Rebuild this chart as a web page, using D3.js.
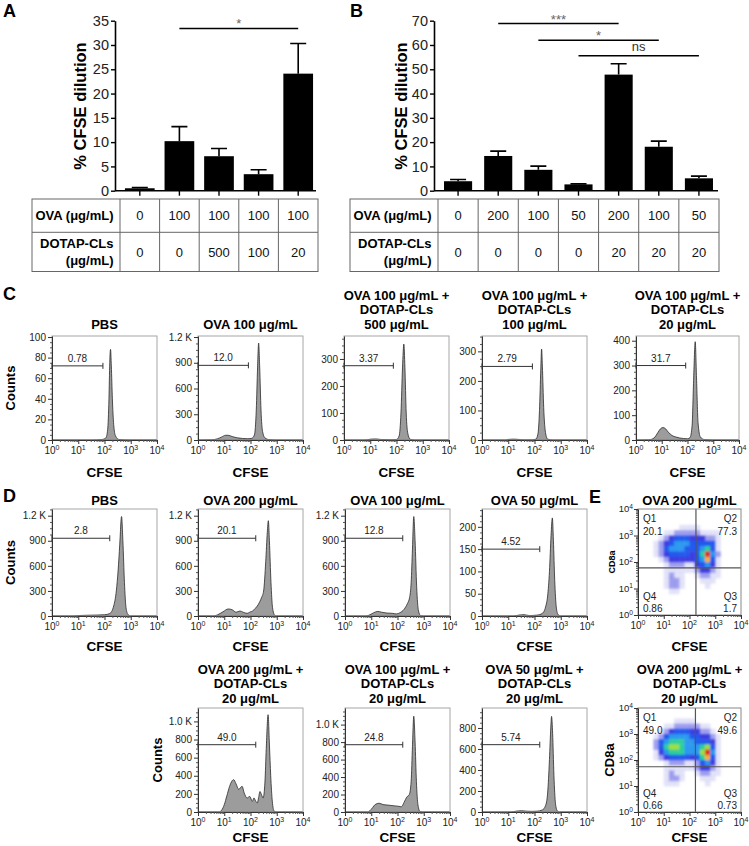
<!DOCTYPE html>
<html><head><meta charset="utf-8">
<script src="https://cdn.jsdelivr.net/npm/d3@7"></script>
<style>body{margin:0;background:#fff}svg{display:block}</style>
</head><body>
<svg id="fig" width="749" height="846"></svg>
<script>
// ---------------- DATA ----------------
// Panel A
const aOva = ["0","100","100","100","100"];
const aDotap = ["0","0","500","100","20"];
const aMean = [0.5, 10.2, 7.1, 3.4, 24.1];
const aErr = [0.15, 3.0, 1.6, 0.9, 6.2];
const aTicks = [0,5,10,15,20,25,30,35];
const aSig = [[1,4,"*",33.4]];
// Panel B
const bOva = ["0","200","100","50","200","100","50"];
const bDotap = ["0","0","0","0","20","20","20"];
const bMean = [3.9, 14.3, 8.6, 2.6, 47.8, 18.1, 5.1];
const bErr = [0.7, 2.0, 1.5, 0.2, 4.5, 2.3, 0.9];
const bTicks = [0,10,20,30,40,50,60,70];
const bSig = [[1,4,"***",68.8],[2,5,"*",62.0],[3,6,"ns",55.6]];
const tableLabels = ["OVA (μg/mL)", "DOTAP-CLs", "(μg/mL)"];

// Panel C histograms: [log10 CFSE, counts]
const cPBS = [[0,0],[1.5,0],[1.9,0.5],[2.05,2],[2.12,10],[2.17,40],[2.2,75],[2.23,88],[2.26,72],[2.3,40],[2.35,15],[2.42,4],[2.55,0.5],[3,0],[4,0]];
const cOVA100 = [[0,0],[0.5,2],[0.75,15],[0.9,35],[1.05,55],[1.15,55],[1.3,40],[1.5,25],[1.7,18],[1.9,15],[2.05,20],[2.15,60],[2.22,350],[2.27,850],[2.31,1130],[2.35,850],[2.4,350],[2.46,100],[2.55,25],[2.7,5],[3,0],[4,0]];
const cD500 = [[0,0],[0.8,0],[1.0,3],[1.2,4],[1.4,2],[1.8,1],[2.0,2],[2.1,15],[2.17,100],[2.23,270],[2.28,355],[2.32,270],[2.37,100],[2.43,25],[2.52,3],[2.7,0],[4,0]];
const cD100 = [[0,0],[0.9,0],[1.0,2],[1.2,3],[1.4,2],[1.6,0.5],[1.9,0.5],[2.05,3],[2.13,20],[2.19,100],[2.24,240],[2.27,308],[2.3,250],[2.35,110],[2.42,25],[2.5,3],[2.7,0],[4,0]];
const cD20 = [[0,0],[0.5,1],[0.7,8],[0.85,30],[0.95,45],[1.05,50],[1.15,45],[1.25,32],[1.4,18],[1.55,12],[1.7,8],[1.85,6],[2.0,5],[2.1,10],[2.18,60],[2.24,250],[2.3,396],[2.35,250],[2.41,70],[2.5,12],[2.65,2],[3,0],[4,0]];
const ticksC = [[0,20,40,60,80,100],[0,300,600,900,1200],[0,100,200,300],[0,100,200,300],[0,100,200,300,400]];
const gateC = [[1.94,72,"0.78"],[1.92,870,"12.0"],[1.88,275,"3.37"],[1.92,249,"2.79"],[1.93,300,"31.7"]];
const titlesC = [["PBS"],["OVA 100 μg/mL"],["OVA 100 μg/mL +","DOTAP-CLs","500 μg/mL"],["OVA 100 μg/mL +","DOTAP-CLs","100 μg/mL"],["OVA 100 μg/mL +","DOTAP-CLs","20 μg/mL"]];

// Panel D histograms
const dPBS = [[0,0],[0.8,0],[1.0,5],[1.5,10],[2.0,15],[2.2,30],[2.35,120],[2.45,300],[2.52,550],[2.58,850],[2.65,1190],[2.7,900],[2.76,400],[2.82,100],[2.9,15],[3.0,0],[4,0]];
const dOVA200 = [[0,0],[0.6,0],[0.75,15],[0.95,50],[1.15,84],[1.3,75],[1.45,45],[1.6,60],[1.72,45],[1.87,32],[2.0,50],[2.08,60],[2.18,90],[2.3,140],[2.42,220],[2.5,300],[2.58,650],[2.64,1000],[2.68,1140],[2.72,900],[2.78,400],[2.84,100],[2.92,10],[3.0,0],[4,0]];
const dOVA100 = [[0,0],[0.8,0],[0.95,15],[1.1,40],[1.25,55],[1.4,45],[1.6,35],[1.8,32],[1.95,25],[2.1,40],[2.25,80],[2.38,150],[2.46,220],[2.52,400],[2.57,800],[2.62,1190],[2.67,900],[2.73,350],[2.8,60],[2.88,5],[3,0],[4,0]];
const dOVA50 = [[0,0],[1.2,0],[1.4,2],[1.6,3],[1.8,1],[2.1,2],[2.3,6],[2.42,20],[2.5,45],[2.57,100],[2.63,180],[2.68,220],[2.72,170],[2.77,80],[2.83,20],[2.9,3],[3.0,0],[4,0]];
const dOVA200D = [[0,0],[0.8,0],[0.9,20],[1.0,80],[1.1,180],[1.2,280],[1.3,345],[1.36,357],[1.45,310],[1.55,250],[1.62,270],[1.68,283],[1.76,210],[1.87,155],[1.97,172],[2.07,117],[2.13,155],[2.2,120],[2.26,99],[2.31,160],[2.36,227],[2.42,190],[2.48,155],[2.55,330],[2.6,700],[2.67,1074],[2.72,750],[2.77,400],[2.83,120],[2.9,10],[3,0],[4,0]];
const dOVA100D = [[0,0],[0.85,0],[0.95,15],[1.05,50],[1.15,85],[1.3,100],[1.45,85],[1.6,80],[1.75,75],[1.9,70],[2.05,65],[2.15,60],[2.25,110],[2.35,170],[2.45,200],[2.52,350],[2.57,750],[2.62,1096],[2.67,800],[2.72,350],[2.78,80],[2.86,5],[3,0],[4,0]];
const dOVA50D = [[0,0],[1.1,0],[1.3,8],[1.5,12],[1.7,8],[1.9,6],[2.1,8],[2.3,20],[2.42,60],[2.5,180],[2.57,500],[2.62,800],[2.65,910],[2.69,750],[2.74,350],[2.8,80],[2.87,10],[2.95,0],[4,0]];
const ticksD = [[0,300,600,900,1200],[0,300,600,900,1200],[0,300,600,900,1200],[0,50,100,150,200]];
const ticksD2 = [[0,200,400,600,800,1000],[0,200,400,600,800,1000],[0,200,400,600,800]];
const gateD = [[2.2,930,"2.8"],[2.2,930,"20.1"],[2.2,930,"12.8"],[2.2,150,"4.52"]];
const gateD2 = [[2.2,743,"49.0"],[2.2,770,"24.8"],[2.2,641,"5.74"]];
const titlesD = [["PBS"],["OVA 200 μg/mL"],["OVA 100 μg/mL"],["OVA 50 μg/mL"]];
const titlesD2 = [["OVA 200 μg/mL +","DOTAP-CLs","20 μg/mL"],["OVA 100 μg/mL +","DOTAP-CLs","20 μg/mL"],["OVA 50 μg/mL +","DOTAP-CLs","20 μg/mL"]];

// Panel E density grids (20x20 cells of 0.2 decade, rows from CD8a 10^4 down; 0 = empty, 9 = densest)
const eGridTop = [
"00000000000000000000","00000000000000000000","00000000000000000000",
"00000000111100000000","00000112222211110000","00001234443332210000",
"00012345554444410000","00012455544456410000","00012344443469520000",
"00001233333458410000","00000122211345310000","00000111111233210000",
"00000121100122110000","00000122100011100000","00000122100001000000",
"00000011000000000000","00000000000000000000","00000000000000000000",
"00000000000000000000","00000000000000000000"];
const eGridBottom = [
"00000000000000000000","00000000000000000000","00000001111000000000",
"00000112222211000000","00001234443322100000","00012455554433210000",
"00024566655444310000","00024677655567410000","00013566655579510000",
"00012344443468410000","00000122211245310000","00000111111233210000",
"00000121100122110000","00000122100011100000","00000111000001000000",
"00000000000000000000","00000000000000000000","00000000000000000000",
"00000000000000000000","00000000000000000000"];
const eQuadTop = [178, 60];
const eQuadBottom = [170, 55];
const eQTop = ["20.1","77.3","1.7","0.86"];
const eQBottom = ["49.0","49.6","0.73","0.66"];
const titlesE = [["OVA 200 μg/mL"],["OVA 200 μg/mL +","DOTAP-CLs","20 μg/mL"]];
const densityColors = ["none","#c8c8f4","#8080ea","#3c3ce0","#2458ee","#2c98f0","#2ccf9a","#9ee03a","#f4b020","#e62020"];

// ---------------- DRAWING ----------------
const FF = '"Liberation Sans", Arial, Helvetica, sans-serif';
const svg = d3.select("#fig").attr("font-family", FF);

function txt(g, x, y, s, o = {}) {
  const t = g.append("text").attr("x", x).attr("y", y).text(s)
    .attr("font-size", o.size || 12).attr("font-weight", o.bold ? "bold" : "normal")
    .attr("text-anchor", o.anchor || "start").attr("fill", o.fill || "#111");
  if (o.rotate) t.attr("transform", `rotate(-90,${x},${y})`);
  return t;
}
function styleAxis(sel, size, color) {
  sel.attr("font-family", FF);
  sel.selectAll("path.domain").attr("stroke", color || "#333");
  sel.selectAll(".tick line").attr("stroke", color || "#333");
  sel.selectAll("text").attr("font-size", size).attr("fill", "#222").attr("font-family", FF);
}

// Panel letters
[["A",3,17],["B",350,17],["C",3,300],["D",3,502],["E",589,503]].forEach(d =>
  txt(svg, d[1], d[2], d[0], {size: 18, bold: true, fill: "#000"}));

function barPanel(p) {
  const g = svg.append("g");
  const n = p.mean.length;
  const x = d3.scaleBand().domain(d3.range(n)).range([p.c0, p.c1]).paddingInner(p.pad).paddingOuter(p.pad / 2);
  const y = d3.scaleLinear().domain([0, p.yMax]).range([190.7, 20.7]);
  const cx = i => x(i) + x.bandwidth() / 2;
  g.selectAll("rect.bar").data(p.mean).join("rect").attr("class", "bar")
    .attr("x", (d, i) => x(i)).attr("width", x.bandwidth())
    .attr("y", d => y(d)).attr("height", d => y(0) - y(d)).attr("fill", "#000");
  g.selectAll("path.eb").data(p.mean).join("path").attr("class", "eb")
    .attr("d", (d, i) => `M${cx(i)},${y(d)}V${y(d + p.err[i])}M${cx(i) - 8},${y(d + p.err[i])}H${cx(i) + 8}`)
    .attr("stroke", "#000").attr("stroke-width", 1.6).attr("fill", "none");
  const ya = g.append("g").attr("transform", `translate(${p.ax0},0)`)
    .call(d3.axisLeft(y).tickValues(p.ticks).tickSize(4).tickSizeOuter(0).tickPadding(2));
  styleAxis(ya, 14.5, "#000");
  ya.select("path.domain").attr("stroke-width", 1.6);
  ya.selectAll(".tick line").attr("stroke-width", 1.4);
  const xa = g.append("g").attr("transform", `translate(0,${y(0)})`)
    .call(d3.axisBottom(x).tickSize(5).tickSizeOuter(0).tickFormat(""));
  xa.select("path.domain").remove();
  xa.selectAll(".tick line").attr("stroke", "#000").attr("stroke-width", 1.4);
  g.append("line").attr("x1", p.ax0).attr("x2", p.ax1).attr("y1", y(0)).attr("y2", y(0))
    .attr("stroke", "#000").attr("stroke-width", 1.6);
  // significance
  p.sig.forEach(s => {
    const yy = y(s[3]);
    g.append("line").attr("x1", cx(s[0])).attr("x2", cx(s[1])).attr("y1", yy).attr("y2", yy)
      .attr("stroke", "#000").attr("stroke-width", 1.5);
    const isNs = s[2] === "ns";
    txt(g, (cx(s[0]) + cx(s[1])) / 2, isNs ? yy - 4.5 : yy, s[2],
      {size: 13, anchor: "middle", fill: isNs ? "#333" : "#666"});
  });
  // y label
  txt(g, p.ylx, 106, "% CFSE dilution", {size: 16.5, bold: true, anchor: "middle", rotate: true, fill: "#000"});
  // table
  const step = x.step();
  const t0 = 199, t1 = 232.3, t2 = 271.5;
  g.append("rect").attr("x", p.t0).attr("y", t0).attr("width", p.c1 - p.t0).attr("height", t2 - t0)
    .attr("fill", "none").attr("stroke", "#666").attr("stroke-width", 1);
  g.append("line").attr("x1", p.t0).attr("x2", p.c1).attr("y1", t1).attr("y2", t1).attr("stroke", "#666");
  d3.range(n).forEach(i => g.append("line").attr("x1", p.c0 + i * step).attr("x2", p.c0 + i * step)
    .attr("y1", t0).attr("y2", t2).attr("stroke", "#666"));
  txt(g, p.c0 - 6.5, 219.8, tableLabels[0], {size: 13, bold: true, anchor: "end", fill: "#000"});
  txt(g, p.c0 - 6.5, 248, tableLabels[1], {size: 13, bold: true, anchor: "end", fill: "#000"});
  txt(g, p.c0 - 6.5, 264.5, tableLabels[2], {size: 13, bold: true, anchor: "end", fill: "#000"});
  g.selectAll("text.ova").data(p.ova).join("text").attr("class", "ova")
    .attr("x", (d, i) => cx(i)).attr("y", 219.8).attr("text-anchor", "middle")
    .attr("font-size", 13).attr("fill", "#111").text(d => d);
  g.selectAll("text.dot").data(p.dotap).join("text").attr("class", "dot")
    .attr("x", (d, i) => cx(i)).attr("y", 256.5).attr("text-anchor", "middle")
    .attr("font-size", 13).attr("fill", "#111").text(d => d);
}

barPanel({mean: aMean, err: aErr, ova: aOva, dotap: aDotap, ticks: aTicks, sig: aSig, yMax: 35,
  c0: 120, c1: 318, pad: 0.25, ax0: 115, ax1: 316, t0: 32, ylx: 86});
barPanel({mean: bMean, err: bErr, ova: bOva, dotap: bDotap, ticks: bTicks, sig: bSig, yMax: 70,
  c0: 438, c1: 719, pad: 0.3, ax0: 434, ax1: 718, t0: 350, ylx: 407});

function supLabels(g, x, yPos, size, horizontal, xPos) {
  [0, 1, 2, 3, 4].forEach(k => {
    const t = g.append("text").attr("font-size", size).attr("fill", "#222");
    if (horizontal) t.attr("x", x(Math.pow(10, k))).attr("y", yPos).attr("text-anchor", "middle");
    else t.attr("x", xPos).attr("y", x(Math.pow(10, k)) + size * 0.35).attr("text-anchor", "end");
    t.append("tspan").text("10");
    t.append("tspan").attr("dy", -size * 0.4).attr("font-size", size * 0.7).text(k);
  });
}
function logXAxis(g, x, yb) {
  const maj = g.append("g").attr("transform", `translate(0,${yb})`)
    .call(d3.axisBottom(x).tickValues([1, 10, 100, 1000, 10000]).tickSize(4).tickSizeOuter(0).tickFormat(""));
  styleAxis(maj, 10);
  const minors = x.ticks().filter(v => Math.abs(Math.log10(v) - Math.round(Math.log10(v))) > 1e-6);
  const mn = g.append("g").attr("transform", `translate(0,${yb})`)
    .call(d3.axisBottom(x).tickValues(minors).tickSize(2).tickFormat(""));
  mn.select("path.domain").remove();
  mn.selectAll(".tick line").attr("stroke", "#555");
}
function titleLines(g, cxm, baseY, lines) {
  lines.forEach((l, i) => txt(g, cxm, baseY - (lines.length - 1 - i) * 14.5, l, {size: 13, bold: true, anchor: "middle", fill: "#000"}));
}
const kfmt = d => d >= 1000 ? (d / 1000).toFixed(1) + " K" : String(d);

function hist(s) {
  const g = svg.append("g");
  const x = d3.scaleLog().domain([1, 1e4]).range([s.x, s.x + s.w]);
  const y = d3.scaleLinear().domain([0, s.yMax]).range([s.y + s.h, s.y]);
  g.append("path").datum(s.data)
    .attr("d", d3.area().x(d => x(Math.pow(10, d[0]))).y0(y(0)).y1(d => y(d[1])).curve(d3.curveMonotoneX))
    .attr("fill", "#9c9c9c").attr("stroke", "#2a2a2a").attr("stroke-width", 0.8);
  g.append("rect").attr("x", s.x).attr("y", s.y).attr("width", s.w).attr("height", s.h)
    .attr("fill", "none").attr("stroke", "#a6a6a6").attr("stroke-width", 1);
  const ya = g.append("g").attr("transform", `translate(${s.x},0)`)
    .call(d3.axisLeft(y).tickValues(s.ticks).tickFormat(kfmt).tickSize(4).tickSizeOuter(0).tickPadding(2));
  styleAxis(ya, 10);
  const st = s.ticks[1] - s.ticks[0];
  const minors = d3.range(st / 4, s.yMax, st / 4).filter(v => Math.abs(v / st - Math.round(v / st)) > 1e-6);
  const ym = g.append("g").attr("transform", `translate(${s.x},0)`)
    .call(d3.axisLeft(y).tickValues(minors).tickSize(2).tickFormat(""));
  ym.select("path.domain").remove();
  ym.selectAll(".tick line").attr("stroke", "#555");
  logXAxis(g, x, s.y + s.h);
  supLabels(g, x, s.y + s.h + 14, 10, true);
  // gate
  const gx1 = x(1), gx2 = x(Math.pow(10, s.gate[0])), gy = y(s.gate[1]);
  g.append("path").attr("d", `M${gx1},${gy}H${gx2}M${gx1},${gy - 3}V${gy + 3}M${gx2},${gy - 3}V${gy + 3}`)
    .attr("stroke", "#333").attr("stroke-width", 1).attr("fill", "none");
  txt(g, (gx1 + gx2) / 2, gy - 4, s.gate[2], {size: 10, anchor: "middle", fill: "#222"});
  titleLines(g, s.x + s.w / 2, s.titleY, s.title);
  txt(g, s.x + s.w / 2, s.cfseY, "CFSE", {size: 13.5, bold: true, anchor: "middle", fill: "#000"});
  if (s.countsX) txt(g, s.countsX, s.y + s.h / 2, "Counts", {size: 13, bold: true, anchor: "middle", rotate: true, fill: "#000"});
}

// Row C
const rowC = {y: 336, h: 104, titleY: 328.5, cfseY: 476.5, xs: [52, 198, 344, 482, 636], ws: [105, 105, 105, 105, 103], yMax: [101, 1212, 385, 352, 419]};
[cPBS, cOVA100, cD500, cD100, cD20].forEach((d, i) => hist({data: d, x: rowC.xs[i], y: rowC.y, w: rowC.ws[i], h: rowC.h,
  yMax: rowC.yMax[i], ticks: ticksC[i], gate: gateC[i], title: titlesC[i], titleY: rowC.titleY, cfseY: rowC.cfseY,
  countsX: i === 0 ? 14.5 : null}));
// Row D
const rowD = {y: 509, h: 107, titleY: 504.5, cfseY: 650.5, xs: [52, 198, 345, 482], yMax: [1280, 1280, 1280, 240]};
[dPBS, dOVA200, dOVA100, dOVA50].forEach((d, i) => hist({data: d, x: rowD.xs[i], y: rowD.y, w: 105, h: rowD.h,
  yMax: rowD.yMax[i], ticks: ticksD[i], gate: gateD[i], title: titlesD[i], titleY: rowD.titleY, cfseY: rowD.cfseY,
  countsX: i === 0 ? 14.5 : null}));
const rowD2 = {y: 708, h: 104, titleY: 702.5, cfseY: 842, xs: [198, 345, 482], yMax: [1148, 1190, 990]};
[dOVA200D, dOVA100D, dOVA50D].forEach((d, i) => hist({data: d, x: rowD2.xs[i], y: rowD2.y, w: 105, h: rowD2.h,
  yMax: rowD2.yMax[i], ticks: ticksD2[i], gate: gateD2[i], title: titlesD2[i], titleY: rowD2.titleY, cfseY: rowD2.cfseY,
  countsX: i === 0 ? 161.5 : null}));

// Panel E
const defs = svg.append("defs");
defs.append("filter").attr("id", "soft").attr("x", "-10%").attr("y", "-10%").attr("width", "120%").attr("height", "120%")
  .append("feGaussianBlur").attr("stdDeviation", 1.2);
function dotPlot(s, idx) {
  const g = svg.append("g");
  const x = d3.scaleLog().domain([1, 1e4]).range([s.x, s.x + s.w]);
  const y = d3.scaleLog().domain([1, 1e4]).range([s.y + s.h, s.y]);
  defs.append("clipPath").attr("id", "clipE" + idx).append("rect")
    .attr("x", s.x).attr("y", s.y).attr("width", s.w).attr("height", s.h);
  const cells = [];
  s.grid.forEach((row, r) => row.split("").forEach((ch, c) => { if (+ch > 0) cells.push({r, c, v: +ch}); }));
  const cg = g.append("g").attr("clip-path", `url(#clipE${idx})`).append("g").attr("filter", "url(#soft)");
  cg.selectAll("rect").data(cells).join("rect")
    .attr("x", d => x(Math.pow(10, d.c * 0.2))).attr("y", d => y(Math.pow(10, 4 - d.r * 0.2)))
    .attr("width", d => x(Math.pow(10, (d.c + 1) * 0.2)) - x(Math.pow(10, d.c * 0.2)) + 0.4)
    .attr("height", d => y(Math.pow(10, 4 - (d.r + 1) * 0.2)) - y(Math.pow(10, 4 - d.r * 0.2)) + 0.4)
    .attr("fill", d => densityColors[d.v]).attr("opacity", d => d.v === 1 ? 0.5 : (d.v === 2 ? 0.75 : 1));
  g.append("line").attr("x1", x(s.quad[0])).attr("x2", x(s.quad[0])).attr("y1", s.y).attr("y2", s.y + s.h)
    .attr("stroke", "#555").attr("stroke-width", 1.2);
  g.append("line").attr("x1", s.x).attr("x2", s.x + s.w).attr("y1", y(s.quad[1])).attr("y2", y(s.quad[1]))
    .attr("stroke", "#555").attr("stroke-width", 1.2);
  g.append("rect").attr("x", s.x).attr("y", s.y).attr("width", s.w).attr("height", s.h)
    .attr("fill", "none").attr("stroke", "#888").attr("stroke-width", 1);
  const ya = g.append("g").attr("transform", `translate(${s.x},0)`)
    .call(d3.axisLeft(y).tickValues([1, 10, 100, 1000, 10000]).tickSize(4).tickSizeOuter(0).tickFormat(""));
  styleAxis(ya, 10);
  const minors = y.ticks().filter(v => Math.abs(Math.log10(v) - Math.round(Math.log10(v))) > 1e-6);
  const ym = g.append("g").attr("transform", `translate(${s.x},0)`)
    .call(d3.axisLeft(y).tickValues(minors).tickSize(2).tickFormat(""));
  ym.select("path.domain").remove();
  ym.selectAll(".tick line").attr("stroke", "#555");
  supLabels(g, y, 0, 9.5, false, s.x - 5);
  logXAxis(g, x, s.y + s.h);
  supLabels(g, x, s.y + s.h + 14, 10, true);
  const L = s.x + 5, R = s.x + s.w - 4;
  txt(g, L, s.y + 13, "Q1", {size: 10, fill: "#222"});
  txt(g, L, s.y + 26, s.q[0], {size: 10, fill: "#222"});
  txt(g, R, s.y + 13, "Q2", {size: 10, anchor: "end", fill: "#222"});
  txt(g, R, s.y + 26, s.q[1], {size: 10, anchor: "end", fill: "#222"});
  txt(g, L, s.y + s.h - 15, "Q4", {size: 10, fill: "#222"});
  txt(g, L, s.y + s.h - 3, s.q[3], {size: 10, fill: "#222"});
  txt(g, R, s.y + s.h - 15, "Q3", {size: 10, anchor: "end", fill: "#222"});
  txt(g, R, s.y + s.h - 3, s.q[2], {size: 10, anchor: "end", fill: "#222"});
  titleLines(g, s.x + s.w / 2, s.titleY, s.title);
  txt(g, s.x + s.w / 2, s.cfseY, "CFSE", {size: 13.5, bold: true, anchor: "middle", fill: "#000"});
  txt(g, s.cdX, s.y + s.h / 2, "CD8a", {size: s.cdSize, bold: true, anchor: "middle", rotate: true, fill: "#000"});
}
dotPlot({x: 638, y: 509, w: 103, h: 106, grid: eGridTop, quad: eQuadTop, q: eQTop, title: titlesE[0],
  titleY: 504.5, cfseY: 650.5, cdX: 615, cdSize: 9}, 0);
dotPlot({x: 638, y: 708, w: 103, h: 104, grid: eGridBottom, quad: eQuadBottom, q: eQBottom, title: titlesE[1],
  titleY: 702.5, cfseY: 842, cdX: 613.5, cdSize: 13}, 1);
</script>
</body></html>
